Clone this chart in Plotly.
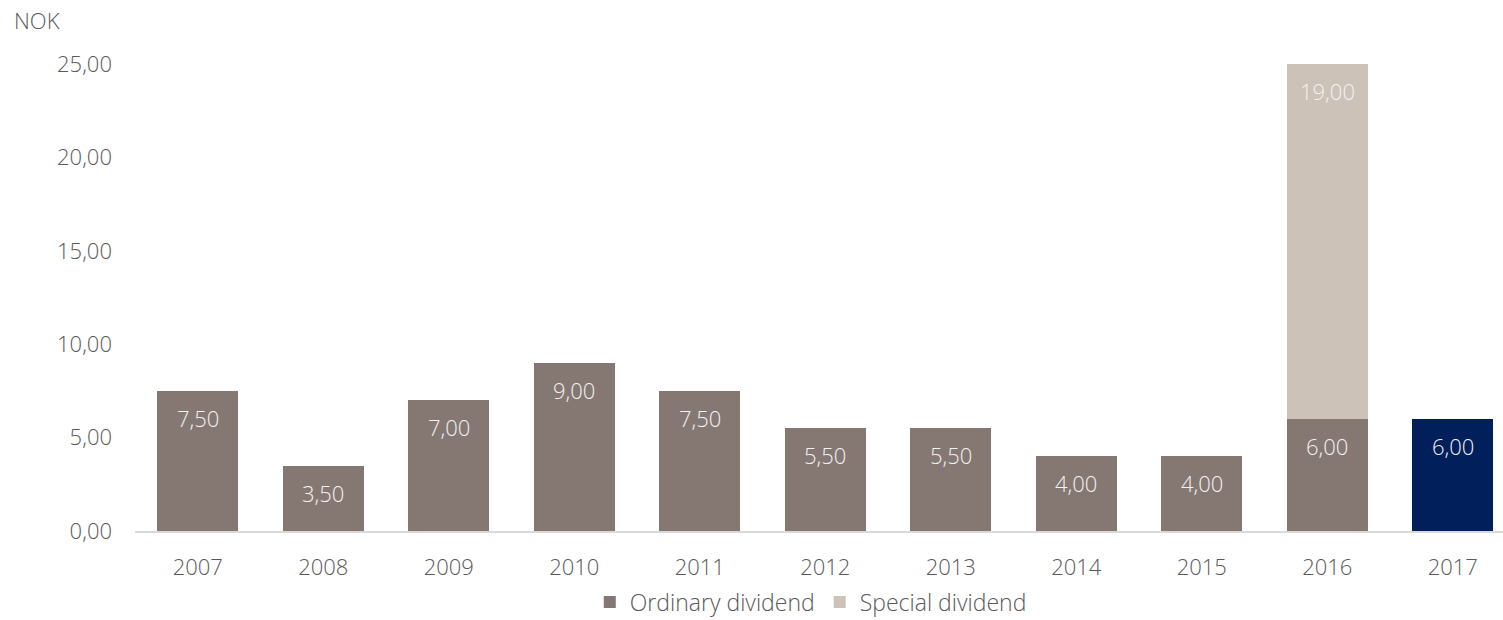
import plotly.graph_objects as go

# Dividend per share, NOK
years = ["2007", "2008", "2009", "2010", "2011", "2012", "2013", "2014", "2015", "2016", "2017"]
ordinary = [7.5, 3.5, 7.0, 9.0, 7.5, 5.5, 5.5, 4.0, 4.0, 6.0, 6.0]
special = [None, None, None, None, None, None, None, None, None, 19.0, None]
y_ticks = [0, 5, 10, 15, 20, 25]

GREY = "#857873"
BEIGE = "#CCC2B8"
NAVY = "#001F5B"
TEXT = "#595959"
FONT = "Open Sans"


def nok(v):
    return f"{v:.2f}".replace(".", ",")


ord_colors = [NAVY if y == "2017" else GREY for y in years]

fig = go.Figure()
fig.add_trace(go.Bar(
    x=years, y=ordinary, name="Ordinary dividend",
    marker=dict(color=ord_colors, line=dict(width=0)),
))
fig.add_trace(go.Bar(
    x=years, y=special, name="Special dividend",
    marker=dict(color=BEIGE, line=dict(width=0)),
))

# Value labels just below the top of each segment (x given as category index)
label_font = dict(family=FONT, size=22, color="#F2F2F2", weight=300)
annotations = []
for i, o in enumerate(ordinary):
    annotations.append(dict(x=i, y=o, xref="x", yref="y", text=nok(o),
                            showarrow=False, yshift=-27, font=label_font))
for i, (o, s) in enumerate(zip(ordinary, special)):
    if s is not None:
        annotations.append(dict(x=i, y=o + s, xref="x", yref="y", text=nok(s),
                                showarrow=False, yshift=-27, font=label_font))

annotations.append(dict(x=-0.0899, y=1.094, xref="paper", yref="paper", text="NOK",
                        showarrow=False, xanchor="left", yanchor="middle",
                        font=dict(family=FONT, size=22, color=TEXT, weight=300)))

fig.update_layout(
    template="none",
    width=1503, height=620,
    margin=dict(l=135, r=0, t=64, b=89, autoexpand=False),
    paper_bgcolor="white", plot_bgcolor="white",
    barmode="stack", bargap=0.355,
    font=dict(family=FONT, size=22, color=TEXT, weight=300),
    showlegend=True,
    legend=dict(orientation="h", x=0.494, xanchor="center", y=-0.152, yanchor="middle",
                font=dict(family=FONT, size=23, color=TEXT, weight=300),
                itemwidth=30, traceorder="normal"),
    annotations=annotations,
)
fig.update_xaxes(
    type="category", range=[-0.5, 10.4],
    showline=True, linecolor="#D9D9D9", linewidth=2,
    ticks="", showgrid=False, ticklabelstandoff=16,
    tickfont=dict(family=FONT, size=22, color=TEXT, weight=300),
)
fig.update_yaxes(
    range=[0, 25], tickvals=y_ticks, ticktext=[nok(v) for v in y_ticks],
    showgrid=False, zeroline=False, showline=False, ticks="",
    ticklabelstandoff=22,
    tickfont=dict(family=FONT, size=22, color=TEXT, weight=300),
)

fig.write_html("out.html")
